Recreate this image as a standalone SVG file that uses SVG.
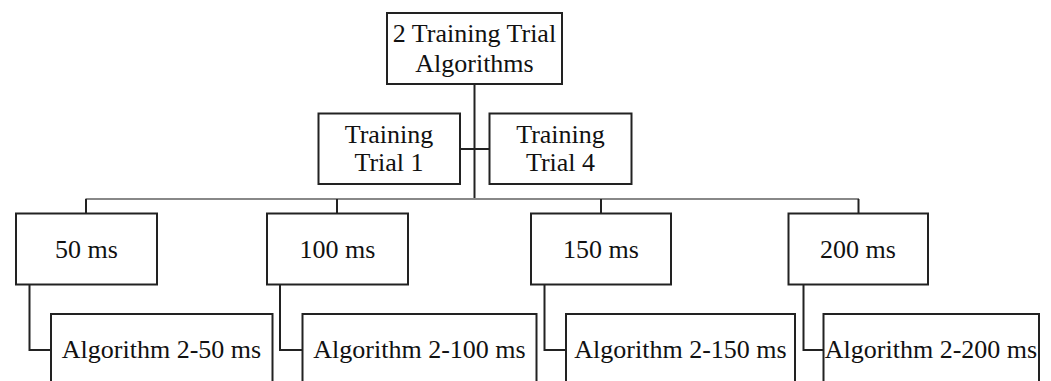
<svg xmlns="http://www.w3.org/2000/svg" width="1051" height="381" viewBox="0 0 1051 381">
<style>
.box{fill:#fff;stroke:#222;stroke-width:2}
.t{font-family:"Liberation Serif","Times New Roman",serif;font-size:26px;fill:#111;text-anchor:middle}
.c{fill:none;stroke:#222;stroke-width:2}
.bus{fill:none;stroke:#888;stroke-width:2}
</style>
<rect width="1051" height="381" fill="#fff"/>
<g id="connectors">
<line class="c" x1="474.5" y1="84" x2="474.5" y2="199"/>
<line class="c" x1="460" y1="149" x2="489" y2="149"/>
<line class="bus" x1="85.5" y1="199" x2="859" y2="199"/>
<line class="c" x1="86" y1="199" x2="86" y2="213"/>
<line class="c" x1="337" y1="199" x2="337" y2="213"/>
<line class="c" x1="601" y1="199" x2="601" y2="213"/>
<line class="c" x1="858.5" y1="199" x2="858.5" y2="213"/>
<polyline class="c" points="29.5,284 29.5,350 51,350"/>
<polyline class="c" points="280,284 280,350 302,350"/>
<polyline class="c" points="544.5,284 544.5,350 566,350"/>
<polyline class="c" points="803.5,284 803.5,350 823,350"/>
</g>
<g id="root">
<rect class="box" x="387" y="13" width="175" height="71"/>
<text class="t" x="474.5" y="42">2 Training Trial</text>
<text class="t" x="474.5" y="72">Algorithms</text>
</g>
<g id="trial1">
<rect class="box" x="318.5" y="113.5" width="141.5" height="70.5"/>
<text class="t" x="389" y="143">Training</text>
<text class="t" x="389" y="171">Trial 1</text>
</g>
<g id="trial4">
<rect class="box" x="489.5" y="113.5" width="142" height="70.5"/>
<text class="t" x="560.5" y="143">Training</text>
<text class="t" x="560.5" y="171">Trial 4</text>
</g>
<g id="ms50">
<rect class="box" x="16" y="213.5" width="141" height="71"/>
<text class="t" x="86.5" y="258">50 ms</text>
</g>
<g id="ms100">
<rect class="box" x="267" y="213.5" width="141" height="71"/>
<text class="t" x="337.5" y="258">100 ms</text>
</g>
<g id="ms150">
<rect class="box" x="531" y="213.5" width="140" height="71"/>
<text class="t" x="601" y="258">150 ms</text>
</g>
<g id="ms200">
<rect class="box" x="788.5" y="213.5" width="139.5" height="71"/>
<text class="t" x="858" y="258">200 ms</text>
</g>
<g id="alg50">
<rect class="box" x="51" y="314" width="221.5" height="90"/>
<text class="t" x="161.5" y="358">Algorithm 2-50 ms</text>
</g>
<g id="alg100">
<rect class="box" x="302.5" y="314" width="234" height="90"/>
<text class="t" x="419.5" y="358">Algorithm 2-100 ms</text>
</g>
<g id="alg150">
<rect class="box" x="566" y="314" width="229" height="90"/>
<text class="t" x="680.5" y="358">Algorithm 2-150 ms</text>
</g>
<g id="alg200">
<rect class="box" x="823.5" y="314" width="215.5" height="90"/>
<text class="t" x="931" y="358">Algorithm 2-200 ms</text>
</g>
</svg>
